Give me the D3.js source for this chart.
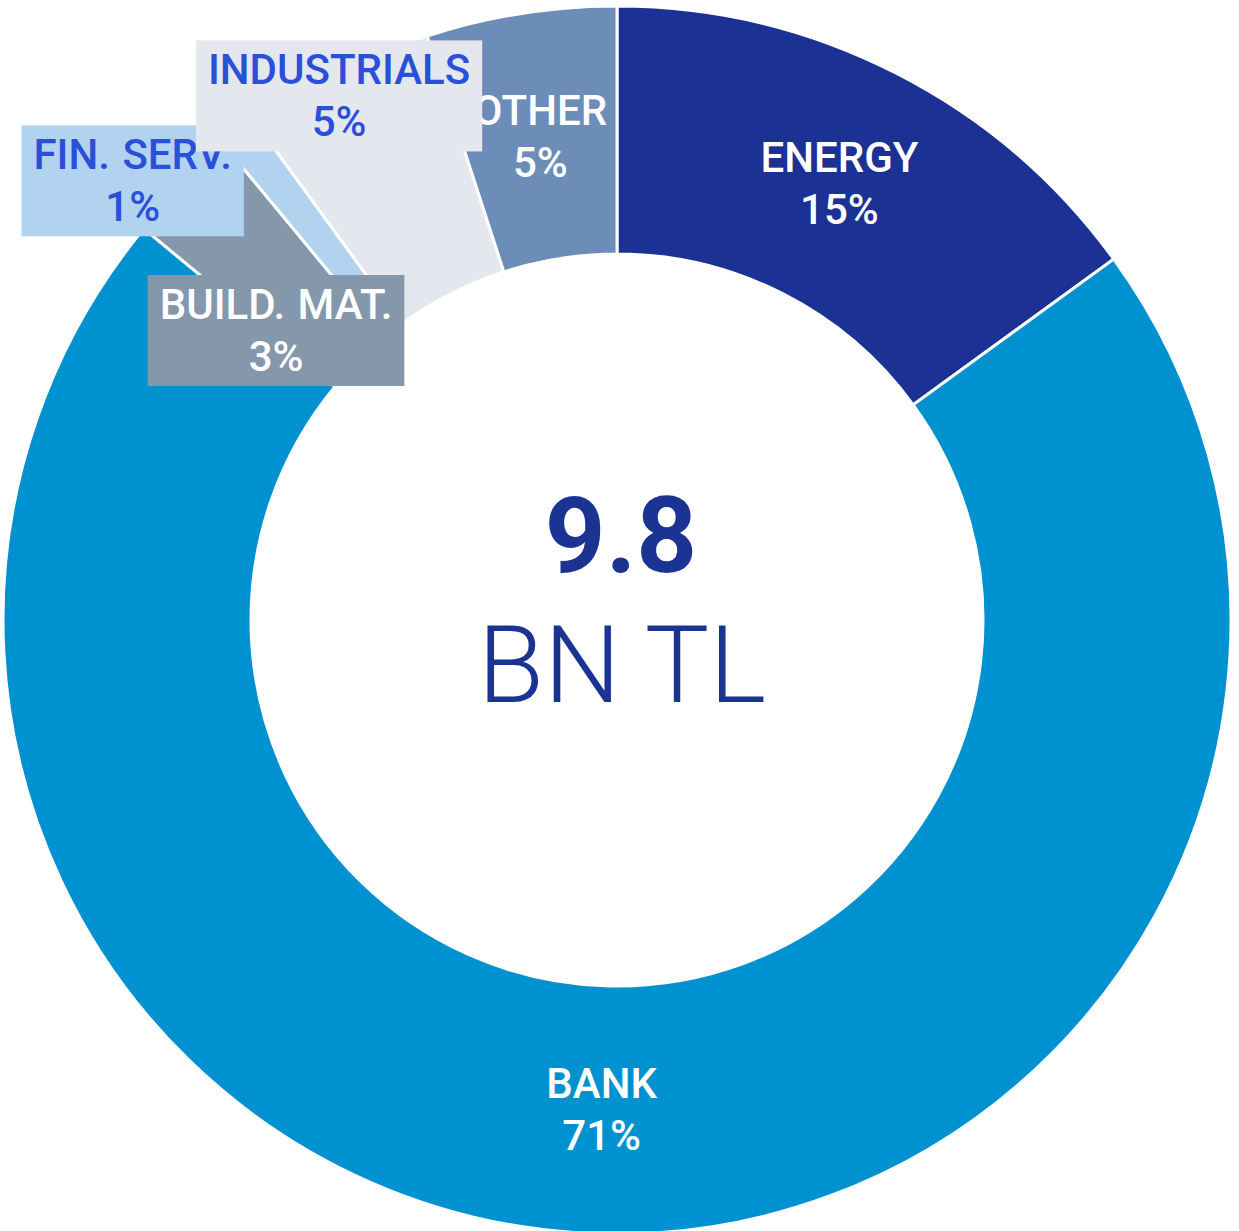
<!DOCTYPE html>
<html>
<head>
<meta charset="utf-8">
<script src="https://cdn.jsdelivr.net/npm/d3@7"></script>
<style>
  html, body { margin: 0; padding: 0; background: #ffffff; }
  svg { display: block; font-family: Roboto, "Noto Sans", sans-serif; }
</style>
</head>
<body>
<svg id="chart" width="1239" height="1231"></svg>
<script>
// Portfolio split by sector (share of total, %)
const categories = ["ENERGY", "BANK", "BUILD. MAT.", "FIN. SERV.", "INDUSTRIALS", "OTHER"];
const shares = [15, 71, 3, 1, 5, 5];
const sliceColors = ["#1b3294", "#0092d0", "#8497ab", "#b2d3ef", "#e4e8ee", "#6b8db8"];
const totalValue = "9.8";
const totalUnit = "BN TL";

// Layout
const W = 1239, H = 1231;
const cx = 617, cy = 620;
const outerR = 614, innerR = 366;
const labelFont = 42, lineGap = 52;
const darkText = "#2a4fd8", lightText = "#ffffff";
// small-slice labels are moved off their slices so they do not collide
const labelNudge = {
  "BUILD. MAT.": [5.5, 57],
  "FIN. SERV.": [-184, -52],
  "INDUSTRIALS": [-55.5, -87.5]
};
const boxed = new Set(["BUILD. MAT.", "FIN. SERV.", "INDUSTRIALS"]);

const data = categories.map((c, i) => ({ category: c, share: shares[i], color: sliceColors[i] }));

const svg = d3.select("#chart");
const g = svg.append("g").attr("transform", `translate(${cx},${cy})`);

const pie = d3.pie().sort(null).value(d => d.share);
const arc = d3.arc().innerRadius(innerR).outerRadius(outerR);
const arcs = pie(data);

g.selectAll("path.slice")
  .data(arcs)
  .join("path")
  .attr("class", "slice")
  .attr("d", arc)
  .attr("fill", d => d.data.color)
  .attr("stroke", "#ffffff")
  .attr("stroke-width", 3)
  .attr("stroke-linejoin", "miter");

// Labels: plain labels first, boxed labels on top in order
const order = arcs.filter(a => !boxed.has(a.data.category))
  .concat(arcs.filter(a => boxed.has(a.data.category)));

function isLight(hex) {
  const c = d3.rgb(hex);
  return (0.299 * c.r + 0.587 * c.g + 0.114 * c.b) > 170;
}

order.forEach(a => {
  const [x0, y0] = arc.centroid(a);
  const nudge = labelNudge[a.data.category] || [0, 0];
  const x = x0 + nudge[0], y = y0 + nudge[1];
  const lg = g.append("g").attr("class", "label");
  const rect = lg.append("rect").attr("fill", a.data.color);
  const txt = lg.append("text")
    .attr("x", x)
    .attr("y", y)
    .attr("text-anchor", "middle")
    .attr("font-size", labelFont)
    .attr("font-weight", 500)
    .attr("word-spacing", 2)
    .attr("fill", isLight(a.data.color) ? darkText : lightText);
  txt.append("tspan").attr("x", x).attr("y", y - 11.5).text(a.data.category);
  txt.append("tspan").attr("x", x).attr("y", y - 11.5 + lineGap).text(d3.format(".0f")(a.data.share) + "%");
  if (boxed.has(a.data.category)) {
    const bb = txt.node().getBBox();
    rect.attr("x", bb.x - 12).attr("y", bb.y - 5)
      .attr("width", bb.width + 24).attr("height", bb.height + 10);
  } else {
    rect.remove();
  }
});

// Total in the hole
g.append("text")
  .attr("x", 4).attr("y", -48)
  .attr("text-anchor", "middle")
  .attr("font-size", 106)
  .attr("font-weight", 700)
  .attr("fill", "#1b3494")
  .text(totalValue);
g.append("text")
  .attr("x", 5).attr("y", 82)
  .attr("text-anchor", "middle")
  .attr("font-size", 108)
  .attr("font-weight", 300)
  .attr("fill", "#1b3494")
  .text(totalUnit);
</script>
</body>
</html>
